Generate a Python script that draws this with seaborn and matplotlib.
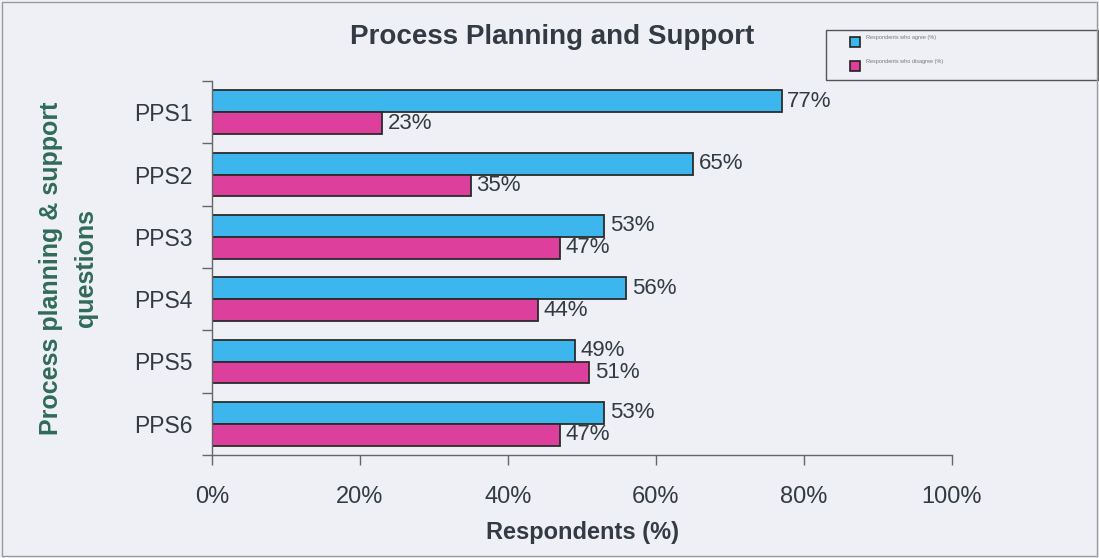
import matplotlib
matplotlib.use("Agg")
import matplotlib.pyplot as plt
import matplotlib.ticker as mticker
from matplotlib.patches import Rectangle
import seaborn as sns
import pandas as pd

# Survey results per question
questions = ["PPS1", "PPS2", "PPS3", "PPS4", "PPS5", "PPS6"]
agree = [77, 65, 53, 56, 49, 53]
disagree = [23, 35, 47, 44, 51, 47]
series_names = ["Respondents who agree (%)", "Respondents who disagree (%)"]
x_ticks = [0, 20, 40, 60, 80, 100]

df = pd.DataFrame({
    "question": questions * 2,
    "value": agree + disagree,
    "series": [series_names[0]] * len(questions) + [series_names[1]] * len(questions),
})

bg = "#eef0f6"
text_col = "#333a44"
sns.set_theme(style="white")
plt.rcParams["font.family"] = ["Liberation Sans", "DejaVu Sans"]

fig = plt.figure(figsize=(10.99, 5.58), dpi=100, facecolor=bg)
ax = fig.add_axes([212 / 1099, 1 - 455 / 558, 740 / 1099, 374 / 558])
ax.set_facecolor(bg)

sns.barplot(
    data=df, y="question", x="value", hue="series", orient="h",
    palette=["#3db6ee", "#dc3f9c"], width=0.7, edgecolor="#2b2b2b",
    linewidth=1.3, saturation=1, ax=ax, legend=False,
)

for cont in ax.containers:
    ax.bar_label(cont, fmt="%d%%", padding=4, fontsize=16, color=text_col)

ax.set_xlim(0, 100)
ax.set_ylim(len(questions) - 0.5, -0.5)
ax.set_xticks(x_ticks)
ax.xaxis.set_major_formatter(mticker.FuncFormatter(lambda v, p: f"{v:.0f}%"))

# category boundaries as tick marks, labels centered between them
ax.set_yticks([i - 0.5 for i in range(len(questions) + 1)])
ax.set_yticklabels([])
ax.set_yticks(range(len(questions)), minor=True)
ax.set_yticklabels(questions, minor=True)
ax.tick_params(axis="y", which="minor", length=0, pad=14, labelsize=16.5, labelcolor=text_col)
ax.tick_params(axis="y", which="major", length=7, width=1, color="#666666", direction="out", left=True)
ax.tick_params(axis="x", length=7, width=1, color="#666666", direction="out", bottom=True,
               pad=15, labelsize=17, labelcolor=text_col)

for s in ["top", "right"]:
    ax.spines[s].set_visible(False)
for s in ["left", "bottom"]:
    ax.spines[s].set_color("#666666")
    ax.spines[s].set_linewidth(1)

ax.set_xlabel("Respondents (%)", fontsize=17, fontweight="bold", color=text_col, labelpad=10)
ax.set_ylabel("Process planning & support\nquestions", fontsize=18, fontweight="bold",
              color="#2f6b57", labelpad=26, linespacing=1.55)

fig.text(552 / 1099, 1 - 37 / 558, "Process Planning and Support", ha="center", va="center",
         fontsize=20, fontweight="bold", color=text_col)

# legend box
fig.patches.append(Rectangle((826 / 1099, 1 - 80 / 558), 272 / 1099, 50 / 558,
                             transform=fig.transFigure, facecolor=bg, edgecolor="#555555", lw=1))
for i, (name, col) in enumerate(zip(series_names, ["#3db6ee", "#dc3f9c"])):
    yc = 1 - (42 + i * 24) / 558
    fig.patches.append(Rectangle((850 / 1099, yc - 5 / 558), 10 / 1099, 10 / 558,
                                 transform=fig.transFigure, facecolor=col, edgecolor="#222222", lw=1.2))
    fig.text(866 / 1099, yc + 5 / 558, name, fontsize=4, color="#777777", va="center")

# outer frame
fig.patches.append(Rectangle((0.002, 0.003), 0.996, 0.994, transform=fig.transFigure,
                             fill=False, edgecolor="#9a9a9a", lw=1))

fig.savefig("out.png", dpi=100, facecolor=bg)
